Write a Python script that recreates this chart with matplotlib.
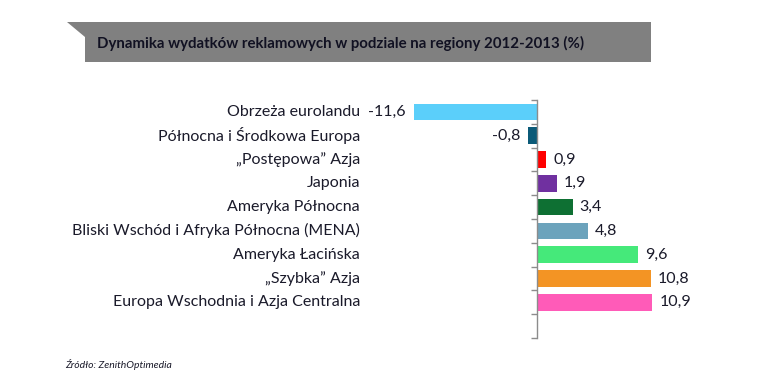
import matplotlib
matplotlib.use("Agg")
import matplotlib.pyplot as plt
from matplotlib.patches import Polygon
from matplotlib import transforms

categories = [
    "Obrzeża eurolandu",
    "Północna i Środkowa Europa",
    "\u201ePostępowa\u201d Azja",
    "Japonia",
    "Ameryka Północna",
    "Bliski Wschód i Afryka Północna (MENA)",
    "Ameryka Łacińska",
    "\u201eSzybka\u201d Azja",
    "Europa Wschodnia i Azja Centralna",
]
values = [-11.6, -0.8, 0.9, 1.9, 3.4, 4.8, 9.6, 10.8, 10.9]
colors = ["#5BCFFA", "#0B5A78", "#FF0000", "#7030A0", "#0E7033",
          "#6CA3BC", "#45E97A", "#F39424", "#FF5BB8"]
title = "Dynamika wydatków reklamowych w podziale na regiony 2012-2013 (%)"
source = "Źródło: ZenithOptimedia"

W, H = 776, 388
fig = plt.figure(figsize=(W / 100, H / 100), dpi=100)
FONT = ["Lato", "DejaVu Sans"]
TXT = "#1a1a2a"
FS = 11.5

def fx(px):
    return px / W

def fy(py):
    return 1 - py / H

# title banner
pts = [(67, 21.5), (651, 21.5), (651, 61.7), (85, 61.7), (85, 37)]
fig.patches.append(Polygon([(fx(x), fy(y)) for x, y in pts], closed=True,
                           transform=fig.transFigure, facecolor="#808080",
                           edgecolor="none", zorder=0))
fig.text(fx(97), fy(43), title, fontsize=10.8, fontweight="bold", color="#111122",
         family=FONT, ha="left", va="center")

# axes
ax_left, ax_right, ax_top, ax_bottom = 380, 700, 100, 338
ax = fig.add_axes([fx(ax_left), fy(ax_bottom), fx(ax_right - ax_left),
                   (ax_bottom - ax_top) / H])
zero_px = 536.7
scale = 10.6  # px per unit
ax.set_xlim(-(zero_px - ax_left) / scale, (ax_right - zero_px) / scale)
nslots = len(categories) + 1
ax.set_ylim(nslots - 0.5, -0.5)

ypos = list(range(len(categories)))
ax.barh(ypos, values, height=0.7, color=colors, zorder=2)

for s in ["top", "right", "bottom"]:
    ax.spines[s].set_visible(False)
ax.spines["left"].set_position(("data", 0))
ax.spines["left"].set_color("#8c8c8c")
ax.spines["left"].set_linewidth(1.0)
ax.spines["left"].set_zorder(3)
ax.set_xticks([])
ax.set_yticks([i - 0.5 for i in range(nslots + 1)])
ax.set_yticklabels([])
ax.tick_params(axis="y", direction="out", length=4, color="#8c8c8c", width=1.0)
ax.patch.set_alpha(0)

# category labels
trans = transforms.blended_transform_factory(fig.transFigure, ax.transData)
for i, c in enumerate(categories):
    ax.text(fx(360), i, c, transform=trans, ha="right", va="center",
            fontsize=FS, color=TXT, family=FONT, clip_on=False)

# value labels
off = transforms.offset_copy(ax.transData, fig=fig, x=7 * 0.72, y=0, units="points")
offn = transforms.offset_copy(ax.transData, fig=fig, x=-8 * 0.72, y=0, units="points")
for i, v in enumerate(values):
    lab = f"{v:.1f}".replace(".", ",")
    if v >= 0:
        ax.text(v, i, lab, transform=off, ha="left", va="center",
                fontsize=FS, color=TXT, family=FONT)
    else:
        ax.text(v, i, lab, transform=offn, ha="right", va="center",
                fontsize=FS, color=TXT, family=FONT)

fig.text(fx(65), fy(364), source, fontsize=7.5, style="italic", color=TXT,
         family=FONT, ha="left", va="center")

fig.savefig("out.png", dpi=100)
